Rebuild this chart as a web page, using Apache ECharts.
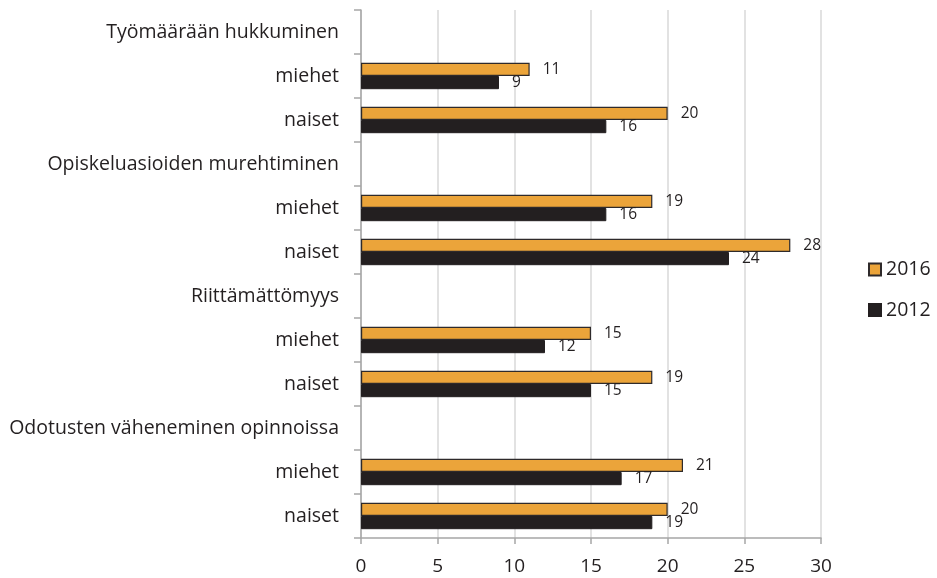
<!DOCTYPE html>
<html>
<head>
<meta charset="utf-8">
<script src="https://cdn.jsdelivr.net/npm/echarts@6/dist/echarts.min.js"></script>
<style>html,body{margin:0;padding:0;background:#fff;}#c{width:937px;height:578px;}</style>
</head>
<body>
<div id="c"></div>
<script>
const categories = [
  "Työmäärään hukkuminen", "miehet", "naiset",
  "Opiskeluasioiden murehtiminen", "miehet", "naiset",
  "Riittämättömyys", "miehet", "naiset",
  "Odotusten väheneminen opinnoissa", "miehet", "naiset"
];
const values2016 = ['-', 11, 20, '-', 19, 28, '-', 15, 19, '-', 21, 20];
const values2012 = ['-', 9, 16, '-', 16, 24, '-', 12, 15, '-', 17, 19];
const xTicks = [0, 5, 10, 15, 20, 25, 30];

const FONT = '"Open Sans"';
const TXT = '#231f20';
const chart = echarts.init(document.getElementById('c'), null, {renderer: 'canvas'});
chart.setOption({
  animation: false,
  backgroundColor: '#ffffff',
  textStyle: {fontFamily: FONT, color: TXT},
  grid: {left: 361, right: 116, top: 10, bottom: 40, containLabel: false},
  legend: {
    orient: 'vertical', left: 868, top: 259.5, padding: 0,
    itemWidth: 12, itemHeight: 12, itemGap: 20.5,
    icon: 'rect',
    textStyle: {fontFamily: FONT, fontSize: 19.5, lineHeight: 20, color: TXT},
    data: ['2016', '2012']
  },
  xAxis: {
    type: 'value', min: xTicks[0], max: xTicks[xTicks.length - 1], interval: 5,
    axisLine: {show: true, lineStyle: {color: '#a6a6a6', width: 1.5}},
    axisTick: {show: true, length: 6, lineStyle: {color: '#a6a6a6', width: 1.5}},
    axisLabel: {fontFamily: FONT, fontSize: 19, color: TXT, margin: 19},
    splitLine: {show: true, lineStyle: {color: '#d9d9d9', width: 1.5}}
  },
  yAxis: {
    type: 'category', inverse: true, data: categories,
    axisLine: {show: true, lineStyle: {color: '#a6a6a6', width: 1.5}},
    axisTick: {show: true, length: 7, lineStyle: {color: '#a6a6a6', width: 1.5}},
    axisLabel: {fontFamily: FONT, fontSize: 19.5, color: TXT, margin: 22},
    splitLine: {show: false}
  },
  series: [
    {
      name: '2016', type: 'bar', data: values2016,
      barCategoryGap: '40%', barGap: '0%',
      itemStyle: {color: '#eba43a', borderColor: '#2e2a2b', borderWidth: 1.2},
      label: {show: true, position: 'right', distance: 13, fontFamily: FONT, fontSize: 15.5, color: TXT}
    },
    {
      name: '2012', type: 'bar', data: values2012,
      barCategoryGap: '40%', barGap: '0%',
      itemStyle: {color: '#231f20', borderColor: '#231f20', borderWidth: 1},
      label: {show: true, position: 'right', distance: 13, fontFamily: FONT, fontSize: 15.5, color: TXT}
    }
  ]
});
</script>
</body>
</html>
